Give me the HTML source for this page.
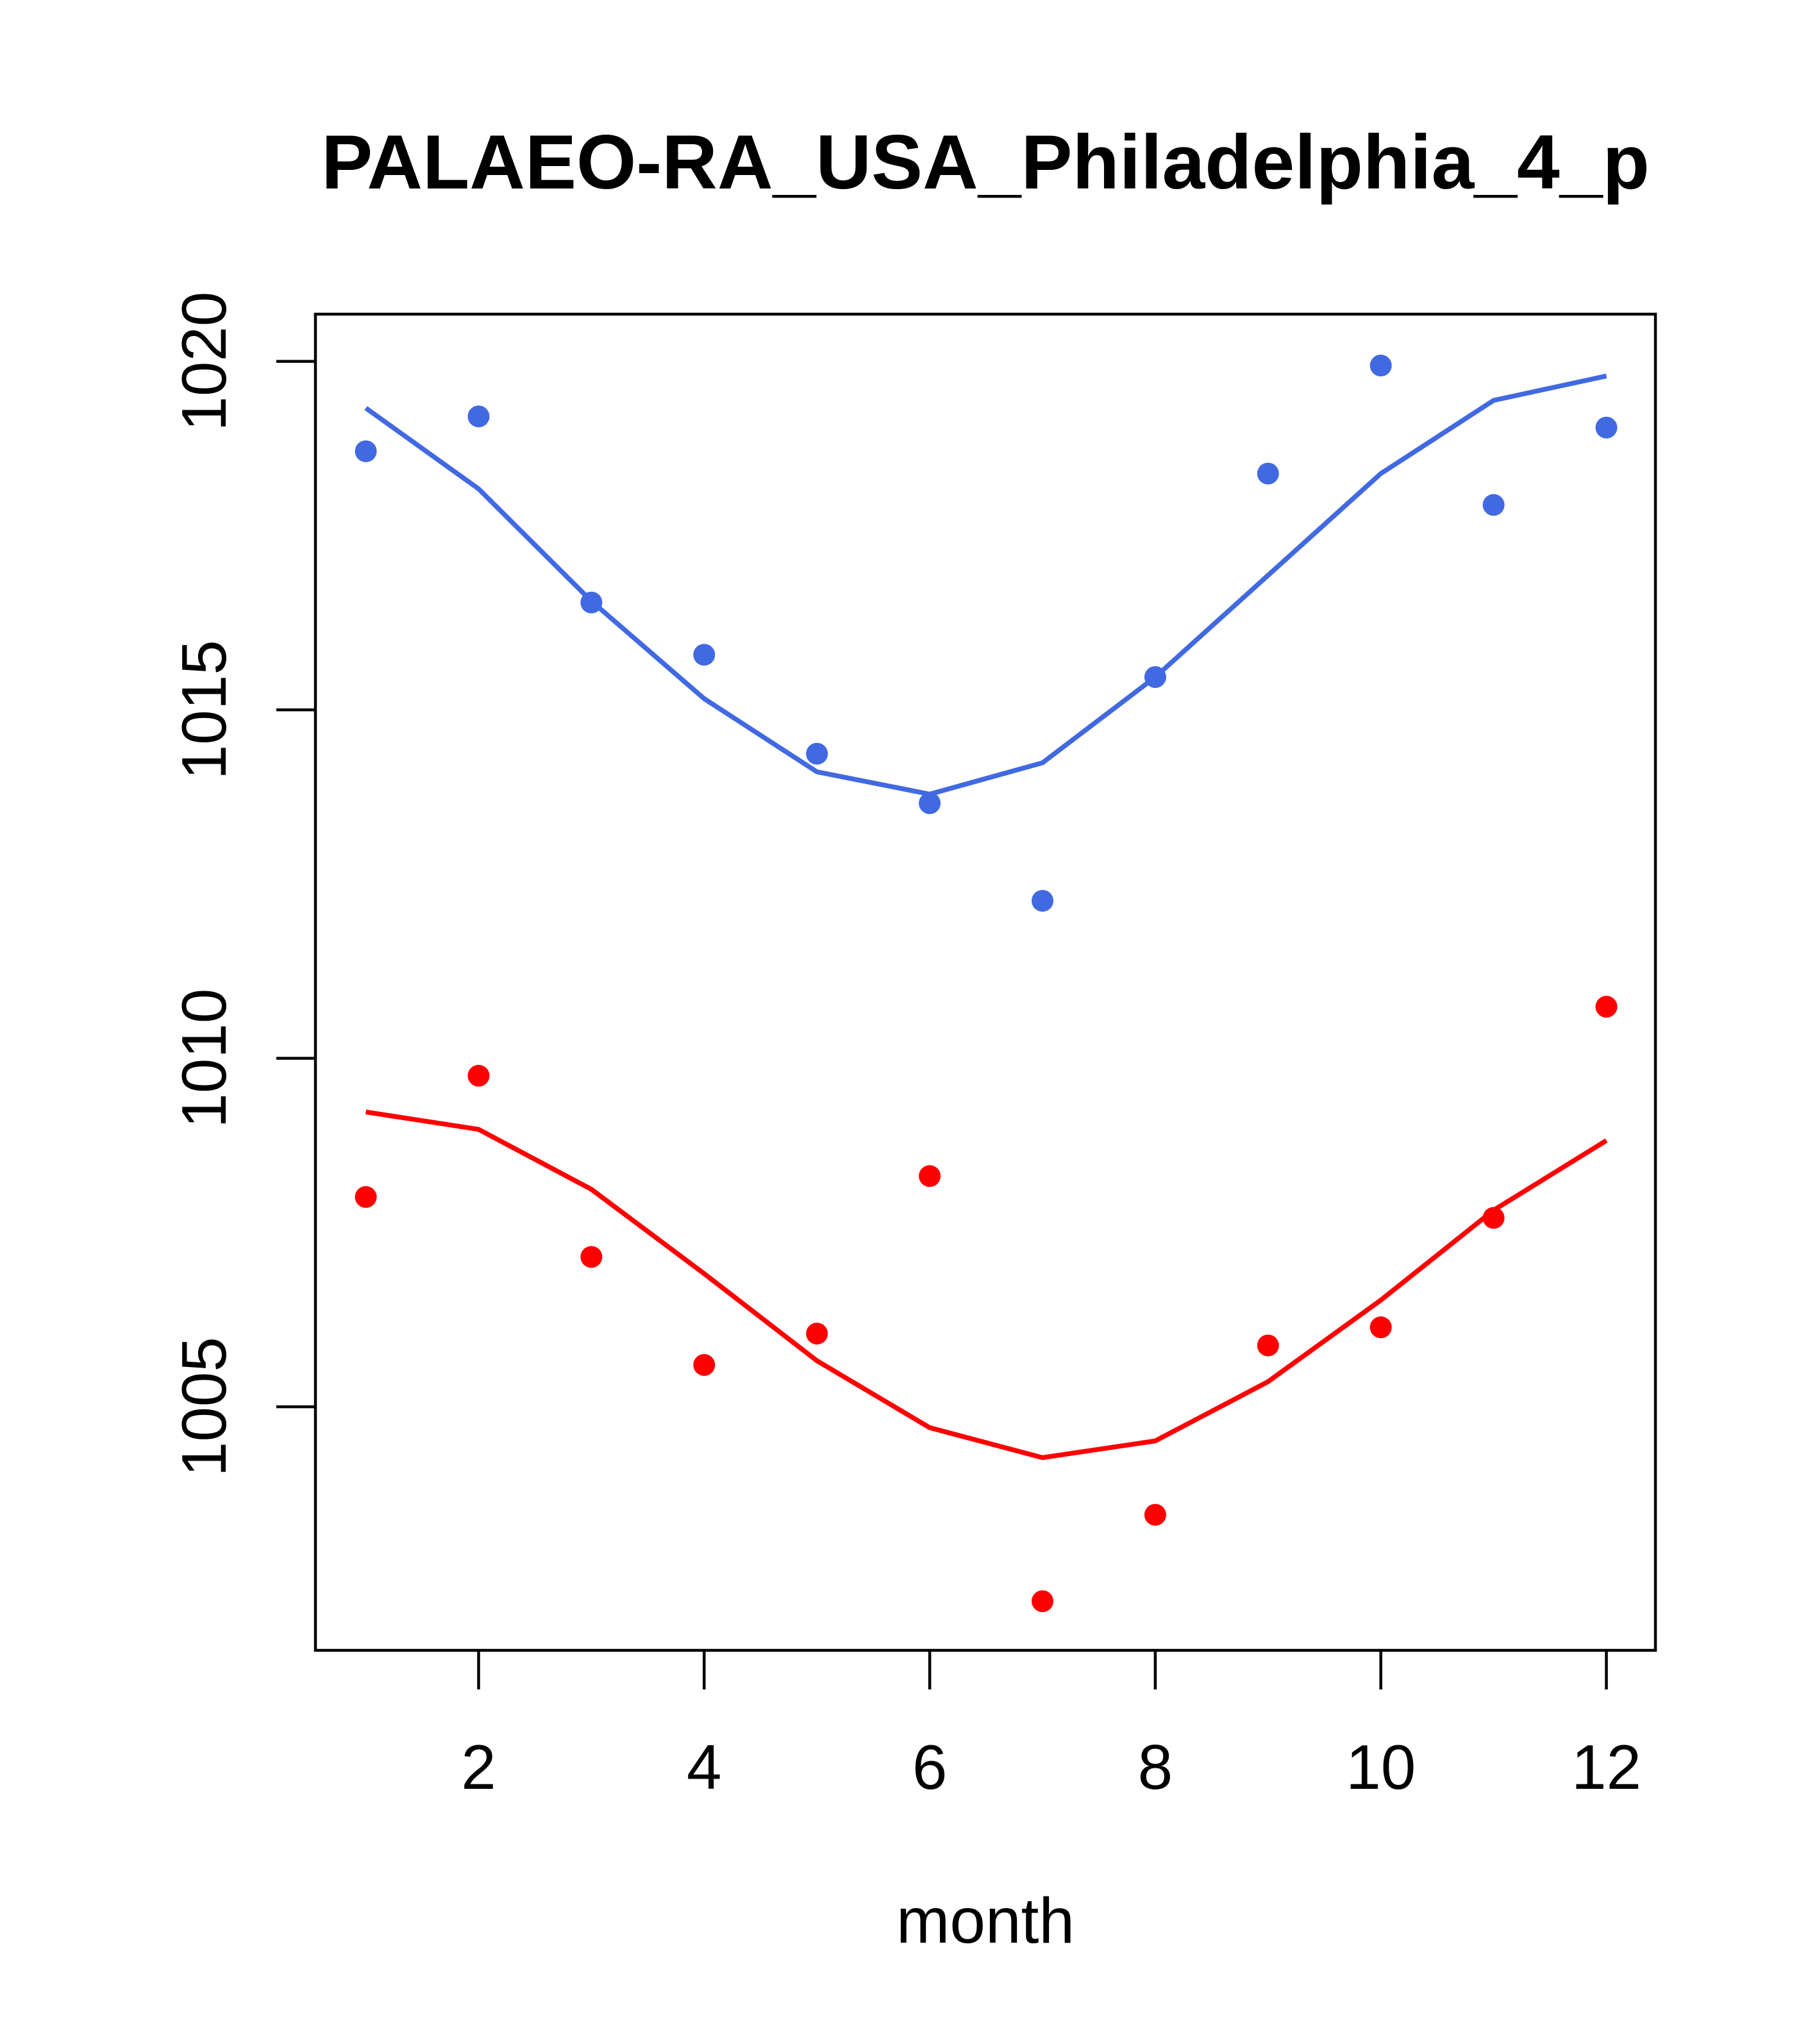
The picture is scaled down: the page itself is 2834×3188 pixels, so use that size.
<!DOCTYPE html>
<html><head><meta charset="utf-8"><style>html,body{margin:0;padding:0;background:#fff}svg{display:block}</style></head>
<body>
<svg id="chart" width="2834" height="3188" viewBox="0 0 2834 3188" xmlns="http://www.w3.org/2000/svg" font-family="Liberation Sans, Arial, sans-serif">
<rect width="2834" height="3188" fill="#fff"/>
<text x="1537" y="294" font-size="120" font-weight="bold" text-anchor="middle">PALAEO-RA_USA_Philadelphia_4_p</text>
<rect x="492" y="490" width="2090" height="2084" fill="none" stroke="#000" stroke-width="4.5"/>
<text x="1537" y="3030" font-size="100" text-anchor="middle">month</text>
<g id="axes"></g>
<g id="series"></g>
</svg>
<script>
const months = [1,2,3,4,5,6,7,8,9,10,11,12];
const bluePoints = [1018.71,1019.21,1016.54,1015.79,1014.37,1013.66,1012.26,1015.47,1018.39,1019.94,1017.94,1019.05];
const blueLine = [1019.33,1018.17,1016.56,1015.16,1014.11,1013.79,1014.24,1015.47,1016.93,1018.39,1019.44,1019.79];
const redPoints = [1008.01,1009.75,1007.15,1005.60,1006.05,1008.31,1002.21,1003.45,1005.88,1006.14,1007.71,1010.74];
const redLine = [1009.23,1008.98,1008.12,1006.91,1005.66,1004.70,1004.27,1004.51,1005.36,1006.53,1007.82,1008.82];
const xTicks = [2,4,6,8,10,12];
const yTicks = [1005,1010,1015,1020];

const NS = "http://www.w3.org/2000/svg";
function xs(m){ return 746.5 + (m-2)*175.9; }
function ys(v){ return 563.6 + (1020-v)*108.7; }
function mk(tag, attrs, parent){ const e=document.createElementNS(NS,tag); for(const k in attrs) e.setAttribute(k,attrs[k]); parent.appendChild(e); return e; }

const axes = document.getElementById('axes');
xTicks.forEach(t=>{
  const l = mk('line',{x1:xs(t),x2:xs(t),y1:2574,y2:2635,stroke:'#000','stroke-width':4.5},axes);
  
  
  const tx = mk('text',{x:xs(t),y:2790,'font-size':98,'text-anchor':'middle'},axes);
  tx.textContent = t;
  
  
});
yTicks.forEach(t=>{
  const l = mk('line',{x1:431,x2:492,y1:ys(t),y2:ys(t),stroke:'#000','stroke-width':4.5},axes);
  
  
  const tx = mk('text',{x:0,y:0,'font-size':98,'text-anchor':'middle',transform:`translate(352,${ys(t)}) rotate(-90)`},axes);
  tx.textContent = t;
  
  
});

const series = document.getElementById('series');
function drawLine(vals,color,name){
  const p = mk('polyline',{points:vals.map((v,i)=>xs(months[i])+','+ys(v)).join(' '),fill:'none',stroke:color,'stroke-width':7.5},series);
  
  
}
function drawPts(vals,color,name){
  vals.forEach((v,i)=>{
    const c = mk('circle',{cx:xs(months[i]),cy:ys(v),r:17,fill:color},series);
    
    
  });
}
drawLine(blueLine,'#4169E1','blue-smooth-line');
drawPts(bluePoints,'#4169E1','blue-point');
drawLine(redLine,'#FF0000','red-smooth-line');
drawPts(redPoints,'#FF0000','red-point');
</script>
</body></html>
